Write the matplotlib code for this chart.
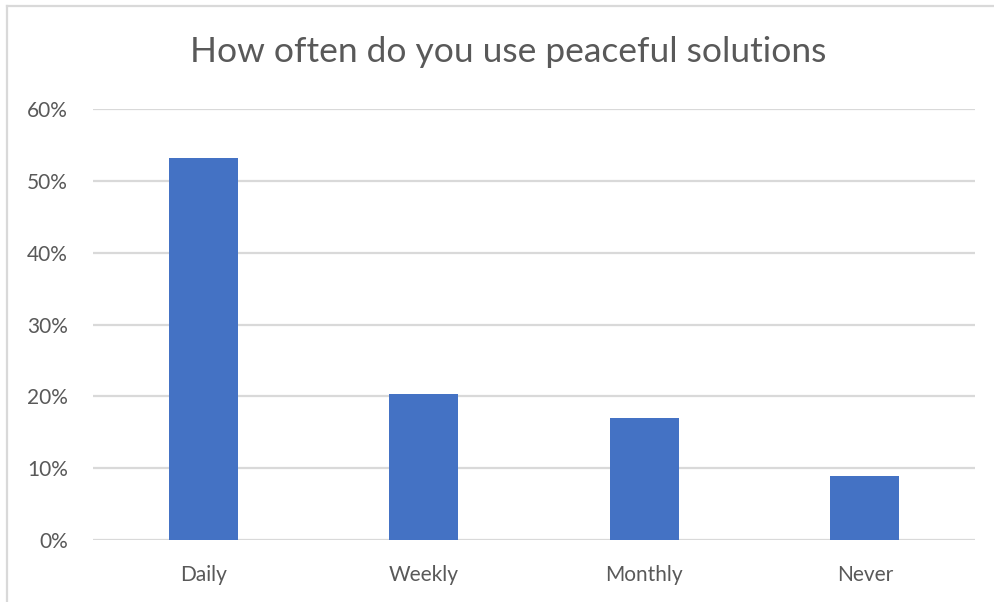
import matplotlib.pyplot as plt
from matplotlib.lines import Line2D
from matplotlib.ticker import PercentFormatter

categories = ['Daily', 'Weekly', 'Monthly', 'Never']
shares = [53.2, 20.3, 17.0, 8.9]
yticks = [0, 10, 20, 30, 40, 50, 60]

text_col = '#595959'
grid_col = '#D9D9D9'
bar_col = '#4472C4'

plt.rcParams['font.family'] = ['Lato', 'DejaVu Sans']

fig = plt.figure(figsize=(9.95, 6.02), dpi=100)
ax = fig.add_axes([0.0935, 0.1030, 0.8864, 0.7159])

x = range(len(categories))
ax.bar(x, shares, width=0.313, color=bar_col, zorder=3)

ax.set_xlim(-0.5, len(categories) - 0.5)
ax.set_ylim(0, 60)
ax.set_yticks(yticks)
ax.yaxis.set_major_formatter(PercentFormatter(decimals=0))
ax.set_xticks(list(x))
ax.set_xticklabels(categories)

ax.grid(axis='y', color=grid_col, linewidth=1.6, zorder=0)
for s in ax.spines.values():
    s.set_visible(False)
ax.tick_params(axis='both', length=0, colors=text_col, labelsize=15)
ax.tick_params(axis='y', pad=18)
ax.tick_params(axis='x', pad=18)

fig.text(508 / 995, 1 - 52 / 602, 'How often do you use peaceful solutions',
         ha='center', va='center', fontsize=25.5, color=text_col)

# chart area outline (top and left edges)
fig.add_artist(Line2D([7 / 995, 1.0], [1 - 6 / 602] * 2, color=grid_col, linewidth=1.6))
fig.add_artist(Line2D([7 / 995] * 2, [0.0, 1 - 6 / 602], color=grid_col, linewidth=1.6))

fig.savefig('out.png', dpi=100)
